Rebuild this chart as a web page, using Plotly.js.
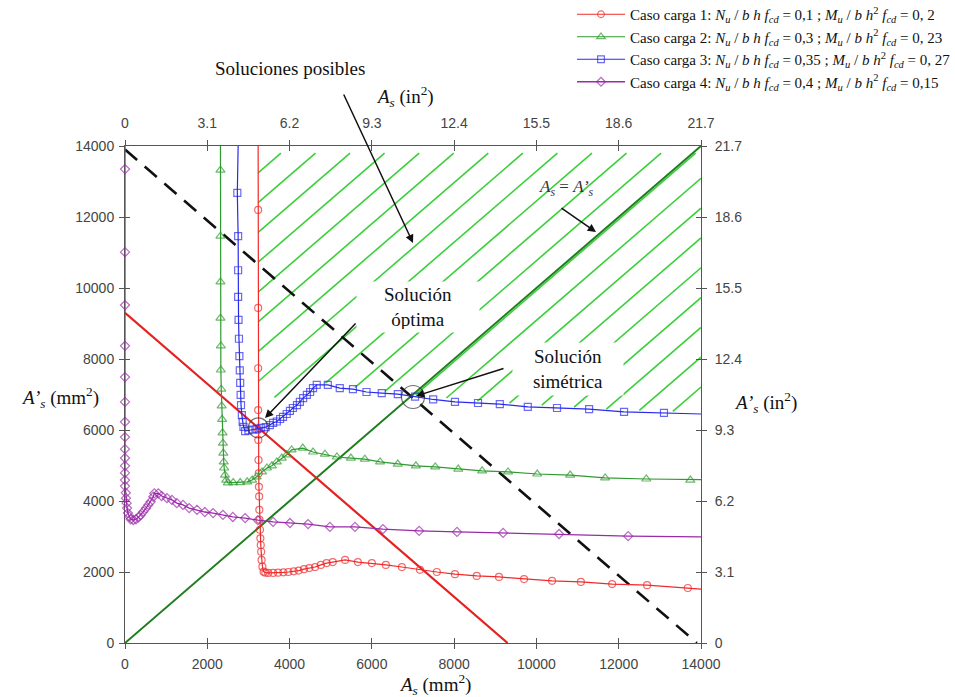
<!DOCTYPE html>
<html><head><meta charset="utf-8">
<script src="https://cdn.plot.ly/plotly-3.0.1.min.js"></script>
<style>html,body{margin:0;padding:0;background:#fff;}#chart{width:955px;height:697px;}</style>
</head><body><div id="chart"></div>
<script>
// ---------- data (mm^2) ----------
const case1X = [3236,3236,3236,3236,3236,3238,3240,3245,3250,3255,3260,3265,3270,3280,3290,3300,3310,3320,3340,3370,3410,
  3480,3600,3720,3850,3970,4100,4220,4350,4480,4620,4760,4900,5050,5350,5660,6000,6340,6730,7170,7580,8020,8550,9090,9700,10380,11080,11840,12690,13680,14000];
const case1Y = [14000,12200,9440,7740,6560,6000,5720,5155,4780,4400,4130,3750,3470,3190,2950,2760,2570,2340,2150,2010,1980,
  1975,1975,1980,1990,2000,2020,2040,2080,2110,2140,2200,2250,2280,2340,2280,2250,2200,2140,2060,2000,1940,1890,1860,1800,1750,1720,1660,1630,1550,1520];

const case2X = [2320,2320,2320,2320,2320,2330,2330,2340,2350,2360,2370,2380,2390,2400,2410,2430,2460,2500,
  2630,2800,2970,3090,3200,3330,3450,3570,3690,3810,3930,4050,4320,4570,4860,5150,5490,5830,6200,6630,7070,7540,8100,8680,9310,10020,10820,11670,12670,13740,14000];
const case2Y = [14000,13320,11460,10170,9150,8370,7690,7150,6680,6300,5920,5630,5350,5100,4930,4730,4590,4510,
  4520,4520,4540,4590,4680,4820,4930,4990,5100,5210,5300,5440,5490,5380,5320,5240,5210,5180,5100,5040,4990,4960,4900,4850,4820,4760,4730,4650,4620,4590,4600];

const case3X = [2750,2730,2750,2750,2750,2760,2770,2780,2790,2800,2810,2820,2840,2860,2880,2920,
  3000,3100,3200,3300,3420,3520,3600,3690,3770,3840,3930,4010,4080,4180,4250,4330,4420,4500,4570,4660,4930,5220,5540,5870,6240,6630,7050,7490,8020,8580,9110,9790,10500,11280,12130,13100,14000];
const case3Y = [14000,12680,11460,10500,9750,9100,8570,8080,7680,7330,6990,6700,6420,6230,6090,5970,
  5990,6010,6030,6060,6080,6140,6200,6240,6310,6370,6450,6540,6620,6700,6790,6900,6990,7070,7180,7270,7270,7180,7150,7070,7040,7010,6940,6860,6790,6760,6730,6650,6620,6590,6510,6480,6450];

const case4X = [0,0,0,0,0,0,0,0,0,0,0,0,0,0,0,20,25,40,50,70,105,138,203,267,324,381,446,510,567,624,689,713,810,
  891,1020,1140,1260,1410,1560,1750,1940,2140,2380,2620,2920,3230,3600,4010,4450,4980,5590,6270,7150,8070,9190,10550,12230,14000];
const case4Y = [14000,13350,11010,9520,8370,7490,6790,6230,5800,5460,5210,4990,4790,4590,4420,4230,4080,3940,3800,3660,3560,3485,3465,3485,3540,3605,3700,3795,3890,3980,4120,4215,4215,
  4140,4080,4030,3940,3890,3800,3750,3690,3660,3610,3550,3520,3460,3410,3380,3350,3270,3270,3210,3160,3130,3100,3070,3010,2990];

const caseNames = [
  'Caso carga 1: <i>N<sub>u</sub></i> / <i>b h f<sub>cd</sub></i> = 0,1 ; <i>M<sub>u</sub></i> / <i>b h</i><sup>2</sup> <i>f<sub>cd</sub></i> = 0, 2',
  'Caso carga 2: <i>N<sub>u</sub></i> / <i>b h f<sub>cd</sub></i> = 0,3 ; <i>M<sub>u</sub></i> / <i>b h</i><sup>2</sup> <i>f<sub>cd</sub></i> = 0, 23',
  'Caso carga 3: <i>N<sub>u</sub></i> / <i>b h f<sub>cd</sub></i> = 0,35 ; <i>M<sub>u</sub></i> / <i>b h</i><sup>2</sup> <i>f<sub>cd</sub></i> = 0, 27',
  'Caso carga 4: <i>N<sub>u</sub></i> / <i>b h f<sub>cd</sub></i> = 0,4 ; <i>M<sub>u</sub></i> / <i>b h</i><sup>2</sup> <i>f<sub>cd</sub></i> = 0,15'
];

// straight reference lines
const equalLineX = [0,14000], equalLineY = [0,14000];        // As = A's
const redLineX = [0,9300],   redLineY = [9300,0];
const dashLineX = [0,13900], dashLineY = [13900,0];

// solution circles
const circleX = [3240,7000], circleY = [6060,6930];

// hatched region of possible solutions
const hatchLeft = 3236, hatchRight = 14000, hatchTop = 13800;
const hatchBotX = [3236,4330,4660,4930,5540,6240,7050,8580,10500,12130,14000];
const hatchBotY = [6900,6950,7320,7320,7200,7090,6990,6810,6670,6560,6500];

// tick labels
const mmTicks = [0,2000,4000,6000,8000,10000,12000,14000];
const mmTickText = ['0','2000','4000','6000','8000','10000','12000','14000'];
const inTicks = [0,3.1,6.2,9.3,12.4,15.5,18.6,21.7];
const inTickText = ['0','3.1','6.2','9.3','12.4','15.5','18.6','21.7'];

// ---------- build ----------
function bottomAt(x){
  for(let i=0;i<hatchBotX.length-1;i++){
    if(x<=hatchBotX[i+1]){
      const t=(x-hatchBotX[i])/(hatchBotX[i+1]-hatchBotX[i]);
      return hatchBotY[i]+t*(hatchBotY[i+1]-hatchBotY[i]);
    }
  }
  return hatchBotY[hatchBotY.length-1];
}
const hx=[], hy=[];
const hatchStep = 840;
for(let c=10010; c>-14000; c-=hatchStep){
  let xl=null;
  for(let x=hatchLeft; x<=hatchRight; x+=5){ if(x+c>=bottomAt(x)){ xl=x; break; } }
  if(xl===null) continue;
  const xh=Math.min(hatchRight, hatchTop-c);
  if(xh<=xl) continue;
  hx.push(xl,xh,null); hy.push(xl+c,xh+c,null);
}

function endSizes(arr, s){ return arr.map((_,i)=> (i===0||i===arr.length-1)?0:s); }

const serif = 'Liberation Serif, Times New Roman, serif';
const sans = 'Liberation Sans, Arial, sans-serif';

const traces = [
  {x:hx, y:hy, mode:'lines', line:{color:'#3ccf3c', width:1.6}, showlegend:false, hoverinfo:'skip'},
  {x:equalLineX, y:equalLineY, mode:'lines', line:{color:'#1e7e1e', width:2}, showlegend:false},
  {x:redLineX, y:redLineY, mode:'lines', line:{color:'#e52020', width:2.2}, showlegend:false},
  {x:dashLineX, y:dashLineY, mode:'lines', line:{color:'#111', width:2.6, dash:'16px,10px'}, showlegend:false},
  {x:case1X, y:case1Y, name:caseNames[0], mode:'lines+markers', cliponaxis:false, line:{color:'#f02a2a', width:1.2},
   marker:{symbol:'circle-open', size:endSizes(case1X,7), color:'#f02a2a', line:{width:1.2}}},
  {x:case2X, y:case2Y, name:caseNames[1], mode:'lines+markers', cliponaxis:false, line:{color:'#2f9a2f', width:1.2},
   marker:{symbol:'triangle-up-open', size:endSizes(case2X,8), color:'#2f9a2f', line:{width:1.2}}},
  {x:case3X, y:case3Y, name:caseNames[2], mode:'lines+markers', cliponaxis:false, line:{color:'#2a2aee', width:1.2},
   marker:{symbol:'square-open', size:endSizes(case3X,7), color:'#2a2aee', line:{width:1.2}}},
  {x:case4X, y:case4Y, name:caseNames[3], mode:'lines+markers', cliponaxis:false, line:{color:'#9a2aa8', width:1.3},
   marker:{symbol:'diamond-open', size:endSizes(case4X,7), color:'#9a2aa8', line:{width:1.2}}},
  {x:circleX, y:circleY, mode:'markers', marker:{symbol:'circle-open', size:[20,23], color:'#333', line:{width:1.2}}, showlegend:false},
  {x:[0], y:[0], xaxis:'x2', yaxis:'y2', mode:'markers', marker:{opacity:0}, showlegend:false, hoverinfo:'skip'},
  {x:[0], y:[0], xaxis:'x3', yaxis:'y3', mode:'markers', marker:{opacity:0}, showlegend:false, hoverinfo:'skip'},
  {x:[0], y:[0], xaxis:'x4', yaxis:'y4', mode:'markers', marker:{opacity:0}, showlegend:false, hoverinfo:'skip'}
];

const tickFont = {family:sans, size:14, color:'#444'};
const baseAx = {showgrid:false, zeroline:false, showline:true, linecolor:'#555', linewidth:1, layer:'below traces',
  ticks:'outside', ticklen:5, tickcolor:'#555', tickwidth:1, tickfont:tickFont, fixedrange:true, automargin:false};
const innerAx = {showgrid:false, zeroline:false, showline:false, ticks:'inside', ticklen:5, tickcolor:'#555',
  tickwidth:1, showticklabels:false, fixedrange:true, automargin:false};

const fx = px => (px-125)/576, fy = py => (643-py)/497;

function arrow(tx,ty,hx_,hy_){
  return {x:hx_, y:hy_, xref:'x', yref:'y', ax:tx, ay:ty, axref:'x', ayref:'y', text:'', showarrow:true,
    arrowhead:2, arrowsize:1.1, arrowwidth:1.5, arrowcolor:'#111', standoff:0, startstandoff:0};
}
function label(px,py,text,size,extra){
  return Object.assign({x:fx(px), y:fy(py), xref:'paper', yref:'paper', text:text, showarrow:false,
    xanchor:'center', yanchor:'middle', font:{family:serif, size:size, color:'#111'}}, extra||{});
}

const layout = {
  width:955, height:697, margin:{l:125, r:254, t:146, b:54, autoexpand:false},
  paper_bgcolor:'#fff', plot_bgcolor:'#fff', showlegend:true,
  xaxis:Object.assign({}, baseAx, {range:[0,14000], tickvals:mmTicks, ticktext:mmTickText, ticklabelstandoff:3}),
  yaxis:Object.assign({}, baseAx, {range:[0,14000], tickvals:mmTicks, ticktext:mmTickText, ticklabelstandoff:2}),
  xaxis2:Object.assign({}, baseAx, {range:[0,21.7], tickvals:inTicks, ticktext:inTickText, overlaying:'x', side:'top', anchor:'y2', ticklabelstandoff:6}),
  yaxis2:Object.assign({}, baseAx, {range:[0,21.7], tickvals:inTicks, ticktext:inTickText, overlaying:'y', side:'right', anchor:'x2', ticklabelstandoff:5}),
  xaxis3:Object.assign({}, innerAx, {range:[0,14000], tickvals:mmTicks, overlaying:'x', side:'bottom', anchor:'y3'}),
  yaxis3:Object.assign({}, innerAx, {range:[0,14000], tickvals:mmTicks, overlaying:'y', side:'left', anchor:'x3'}),
  xaxis4:Object.assign({}, innerAx, {range:[0,21.7], tickvals:inTicks, overlaying:'x', side:'top', anchor:'y4'}),
  yaxis4:Object.assign({}, innerAx, {range:[0,21.7], tickvals:inTicks, overlaying:'y', side:'right', anchor:'x4'}),
  legend:{x:fx(572), y:fy(-2), xanchor:'left', yanchor:'top', bgcolor:'rgba(0,0,0,0)', itemwidth:48,
    font:{family:serif, size:15, color:'#111'}, tracegroupgap:0},
  annotations:[
    label(290,68,'Soluciones posibles',19),
    arrow(5299,15493,7000,11268),
    label(418,307,'Solución<br>óptima',19,{bgcolor:'#fff', width:116, height:44, borderpad:3}),
    arrow(5639,9042,3403,6338),
    label(568,369,'Solución<br>simétrica',19,{bgcolor:'#fff', width:104, height:46, borderpad:3}),
    arrow(9236,7746,7073,6958),
    label(566,188,'<i>A<sub>s</sub></i> = <i>A’<sub>s</sub></i>',17,{font:{family:serif,size:17,color:'#333'}}),
    arrow(10573,12282,11448,11577),
    label(435,684,'<i>A<sub>s</sub></i> (mm<sup>2</sup>)',19),
    label(60,397,'<i>A’<sub>s</sub></i> (mm<sup>2</sup>)',19),
    label(405,96,'<i>A<sub>s</sub></i> (in<sup>2</sup>)',19),
    label(765,402,'<i>A’<sub>s</sub></i> (in<sup>2</sup>)',19)
  ]
};

Plotly.newPlot('chart', traces, layout, {staticPlot:true, displayModeBar:false});
</script></body></html>
